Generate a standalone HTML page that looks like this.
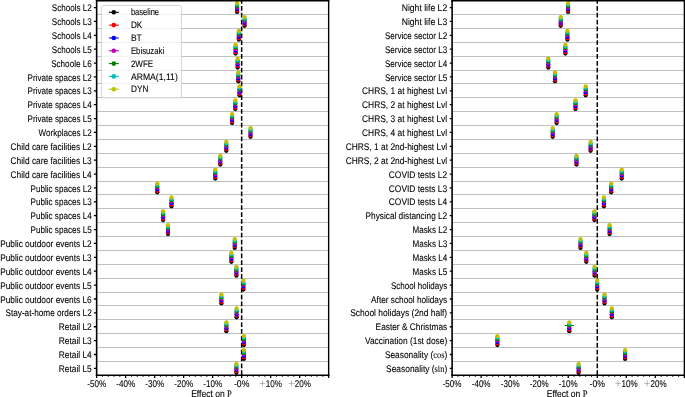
<!DOCTYPE html><html><head><meta charset="utf-8"><style>html,body{margin:0;padding:0;background:#fff;overflow:hidden}svg{display:block;will-change:transform}text{font-family:"Liberation Sans",sans-serif;fill:#000;text-rendering:geometricPrecision;stroke:#000;stroke-width:0.1px}</style></head><body>
<svg width="685" height="397" viewBox="0 0 685 397">
<path d="M96.65 14.5H328.65M96.65 28.5H328.65M96.65 42.5H328.65M96.65 56.5H328.65M96.65 70.5H328.65M96.65 83.5H328.65M96.65 97.5H328.65M96.65 111.5H328.65M96.65 125.5H328.65M96.65 139.5H328.65M96.65 153.5H328.65M96.65 167.5H328.65M96.65 181.5H328.65M96.65 194.5H328.65M96.65 208.5H328.65M96.65 222.5H328.65M96.65 236.5H328.65M96.65 250.5H328.65M96.65 264.5H328.65M96.65 278.5H328.65M96.65 292.5H328.65M96.65 305.5H328.65M96.65 319.5H328.65M96.65 333.5H328.65M96.65 347.5H328.65M96.65 361.5H328.65" stroke="#c0c0c0" stroke-width="1" fill="none"/>
<line x1="241.65" y1="0.62" x2="241.65" y2="375.3" stroke="#000" stroke-width="1.5" stroke-dasharray="4.7 2.175" stroke-dashoffset="1.5"/>
<circle cx="237.1" cy="11.97" r="2.15" fill="#000000"/>
<circle cx="237.1" cy="10.5" r="2.15" fill="#ff0000"/>
<circle cx="237.1" cy="9.03" r="2.15" fill="#0000ff"/>
<circle cx="237.1" cy="7.56" r="2.15" fill="#bf00bf"/>
<circle cx="237.1" cy="6.09" r="2.15" fill="#008000"/>
<circle cx="237.1" cy="4.62" r="2.15" fill="#00bfbf"/>
<circle cx="237.1" cy="3.15" r="2.15" fill="#bfbf00"/>
<circle cx="244.6" cy="25.85" r="2.15" fill="#000000"/>
<circle cx="244.6" cy="24.38" r="2.15" fill="#ff0000"/>
<circle cx="244.6" cy="22.91" r="2.15" fill="#0000ff"/>
<circle cx="244.6" cy="21.44" r="2.15" fill="#bf00bf"/>
<circle cx="244.6" cy="19.97" r="2.15" fill="#008000"/>
<circle cx="244.6" cy="18.5" r="2.15" fill="#00bfbf"/>
<circle cx="244.6" cy="17.03" r="2.15" fill="#bfbf00"/>
<circle cx="238.8" cy="39.72" r="2.15" fill="#000000"/>
<circle cx="238.8" cy="38.25" r="2.15" fill="#ff0000"/>
<circle cx="238.8" cy="36.78" r="2.15" fill="#0000ff"/>
<circle cx="238.8" cy="35.31" r="2.15" fill="#bf00bf"/>
<circle cx="238.8" cy="33.84" r="2.15" fill="#008000"/>
<circle cx="238.8" cy="32.37" r="2.15" fill="#00bfbf"/>
<circle cx="238.8" cy="30.9" r="2.15" fill="#bfbf00"/>
<circle cx="235.6" cy="53.6" r="2.15" fill="#000000"/>
<circle cx="235.6" cy="52.13" r="2.15" fill="#ff0000"/>
<circle cx="235.6" cy="50.66" r="2.15" fill="#0000ff"/>
<circle cx="235.6" cy="49.19" r="2.15" fill="#bf00bf"/>
<circle cx="235.6" cy="47.72" r="2.15" fill="#008000"/>
<circle cx="235.6" cy="46.25" r="2.15" fill="#00bfbf"/>
<circle cx="235.6" cy="44.78" r="2.15" fill="#bfbf00"/>
<circle cx="237.6" cy="67.48" r="2.15" fill="#000000"/>
<circle cx="237.6" cy="66.01" r="2.15" fill="#ff0000"/>
<circle cx="237.6" cy="64.54" r="2.15" fill="#0000ff"/>
<circle cx="237.6" cy="63.07" r="2.15" fill="#bf00bf"/>
<circle cx="237.6" cy="61.6" r="2.15" fill="#008000"/>
<circle cx="237.6" cy="60.13" r="2.15" fill="#00bfbf"/>
<circle cx="237.6" cy="58.66" r="2.15" fill="#bfbf00"/>
<circle cx="238.3" cy="81.35" r="2.15" fill="#000000"/>
<circle cx="238.3" cy="79.88" r="2.15" fill="#ff0000"/>
<circle cx="238.3" cy="78.41" r="2.15" fill="#0000ff"/>
<circle cx="238.3" cy="76.94" r="2.15" fill="#bf00bf"/>
<circle cx="238.3" cy="75.47" r="2.15" fill="#008000"/>
<circle cx="238.3" cy="74" r="2.15" fill="#00bfbf"/>
<circle cx="238.3" cy="72.53" r="2.15" fill="#bfbf00"/>
<circle cx="239.5" cy="95.23" r="2.15" fill="#000000"/>
<circle cx="239.5" cy="93.76" r="2.15" fill="#ff0000"/>
<circle cx="239.5" cy="92.29" r="2.15" fill="#0000ff"/>
<circle cx="239.5" cy="90.82" r="2.15" fill="#bf00bf"/>
<circle cx="239.5" cy="89.35" r="2.15" fill="#008000"/>
<circle cx="239.5" cy="87.88" r="2.15" fill="#00bfbf"/>
<circle cx="239.5" cy="86.41" r="2.15" fill="#bfbf00"/>
<circle cx="235.3" cy="109.11" r="2.15" fill="#000000"/>
<circle cx="235.3" cy="107.64" r="2.15" fill="#ff0000"/>
<circle cx="235.3" cy="106.17" r="2.15" fill="#0000ff"/>
<circle cx="235.3" cy="104.7" r="2.15" fill="#bf00bf"/>
<circle cx="235.3" cy="103.23" r="2.15" fill="#008000"/>
<circle cx="235.3" cy="101.76" r="2.15" fill="#00bfbf"/>
<circle cx="235.3" cy="100.29" r="2.15" fill="#bfbf00"/>
<circle cx="232.1" cy="122.98" r="2.15" fill="#000000"/>
<circle cx="232.1" cy="121.51" r="2.15" fill="#ff0000"/>
<circle cx="232.1" cy="120.04" r="2.15" fill="#0000ff"/>
<circle cx="232.1" cy="118.57" r="2.15" fill="#bf00bf"/>
<circle cx="232.1" cy="117.1" r="2.15" fill="#008000"/>
<circle cx="232.1" cy="115.63" r="2.15" fill="#00bfbf"/>
<circle cx="232.1" cy="114.16" r="2.15" fill="#bfbf00"/>
<circle cx="250.5" cy="136.86" r="2.15" fill="#000000"/>
<circle cx="250.5" cy="135.39" r="2.15" fill="#ff0000"/>
<circle cx="250.5" cy="133.92" r="2.15" fill="#0000ff"/>
<circle cx="250.5" cy="132.45" r="2.15" fill="#bf00bf"/>
<circle cx="250.5" cy="130.98" r="2.15" fill="#008000"/>
<circle cx="250.5" cy="129.51" r="2.15" fill="#00bfbf"/>
<circle cx="250.5" cy="128.04" r="2.15" fill="#bfbf00"/>
<circle cx="226.3" cy="150.74" r="2.15" fill="#000000"/>
<circle cx="226.3" cy="149.27" r="2.15" fill="#ff0000"/>
<circle cx="226.3" cy="147.8" r="2.15" fill="#0000ff"/>
<circle cx="226.3" cy="146.33" r="2.15" fill="#bf00bf"/>
<circle cx="226.3" cy="144.86" r="2.15" fill="#008000"/>
<circle cx="226.3" cy="143.39" r="2.15" fill="#00bfbf"/>
<circle cx="226.3" cy="141.92" r="2.15" fill="#bfbf00"/>
<circle cx="220.3" cy="164.62" r="2.15" fill="#000000"/>
<circle cx="220.3" cy="163.15" r="2.15" fill="#ff0000"/>
<circle cx="220.3" cy="161.68" r="2.15" fill="#0000ff"/>
<circle cx="220.3" cy="160.21" r="2.15" fill="#bf00bf"/>
<circle cx="220.3" cy="158.74" r="2.15" fill="#008000"/>
<circle cx="220.3" cy="157.27" r="2.15" fill="#00bfbf"/>
<circle cx="220.3" cy="155.8" r="2.15" fill="#bfbf00"/>
<circle cx="215.3" cy="178.49" r="2.15" fill="#000000"/>
<circle cx="215.3" cy="177.02" r="2.15" fill="#ff0000"/>
<circle cx="215.3" cy="175.55" r="2.15" fill="#0000ff"/>
<circle cx="215.3" cy="174.08" r="2.15" fill="#bf00bf"/>
<circle cx="215.3" cy="172.61" r="2.15" fill="#008000"/>
<circle cx="215.3" cy="171.14" r="2.15" fill="#00bfbf"/>
<circle cx="215.3" cy="169.67" r="2.15" fill="#bfbf00"/>
<circle cx="157.3" cy="192.37" r="2.15" fill="#000000"/>
<circle cx="157.3" cy="190.9" r="2.15" fill="#ff0000"/>
<circle cx="157.3" cy="189.43" r="2.15" fill="#0000ff"/>
<circle cx="157.3" cy="187.96" r="2.15" fill="#bf00bf"/>
<circle cx="157.3" cy="186.49" r="2.15" fill="#008000"/>
<circle cx="157.3" cy="185.02" r="2.15" fill="#00bfbf"/>
<circle cx="157.3" cy="183.55" r="2.15" fill="#bfbf00"/>
<circle cx="171.5" cy="206.25" r="2.15" fill="#000000"/>
<circle cx="171.5" cy="204.78" r="2.15" fill="#ff0000"/>
<circle cx="171.5" cy="203.31" r="2.15" fill="#0000ff"/>
<circle cx="171.5" cy="201.84" r="2.15" fill="#bf00bf"/>
<circle cx="171.5" cy="200.37" r="2.15" fill="#008000"/>
<circle cx="171.5" cy="198.9" r="2.15" fill="#00bfbf"/>
<circle cx="171.5" cy="197.43" r="2.15" fill="#bfbf00"/>
<circle cx="163.1" cy="220.12" r="2.15" fill="#000000"/>
<circle cx="163.1" cy="218.65" r="2.15" fill="#ff0000"/>
<circle cx="163.1" cy="217.18" r="2.15" fill="#0000ff"/>
<circle cx="163.1" cy="215.71" r="2.15" fill="#bf00bf"/>
<circle cx="163.1" cy="214.24" r="2.15" fill="#008000"/>
<circle cx="163.1" cy="212.77" r="2.15" fill="#00bfbf"/>
<circle cx="163.1" cy="211.3" r="2.15" fill="#bfbf00"/>
<circle cx="168" cy="234" r="2.15" fill="#000000"/>
<circle cx="168" cy="232.53" r="2.15" fill="#ff0000"/>
<circle cx="168" cy="231.06" r="2.15" fill="#0000ff"/>
<circle cx="168" cy="229.59" r="2.15" fill="#bf00bf"/>
<circle cx="168" cy="228.12" r="2.15" fill="#008000"/>
<circle cx="168" cy="226.65" r="2.15" fill="#00bfbf"/>
<circle cx="168" cy="225.18" r="2.15" fill="#bfbf00"/>
<circle cx="234.7" cy="247.88" r="2.15" fill="#000000"/>
<circle cx="234.7" cy="246.41" r="2.15" fill="#ff0000"/>
<circle cx="234.7" cy="244.94" r="2.15" fill="#0000ff"/>
<circle cx="234.7" cy="243.47" r="2.15" fill="#bf00bf"/>
<circle cx="234.7" cy="242" r="2.15" fill="#008000"/>
<circle cx="234.7" cy="240.53" r="2.15" fill="#00bfbf"/>
<circle cx="234.7" cy="239.06" r="2.15" fill="#bfbf00"/>
<circle cx="231.4" cy="261.76" r="2.15" fill="#000000"/>
<circle cx="231.4" cy="260.29" r="2.15" fill="#ff0000"/>
<circle cx="231.4" cy="258.82" r="2.15" fill="#0000ff"/>
<circle cx="231.4" cy="257.35" r="2.15" fill="#bf00bf"/>
<circle cx="231.4" cy="255.88" r="2.15" fill="#008000"/>
<circle cx="231.4" cy="254.41" r="2.15" fill="#00bfbf"/>
<circle cx="231.4" cy="252.94" r="2.15" fill="#bfbf00"/>
<circle cx="236.4" cy="275.63" r="2.15" fill="#000000"/>
<circle cx="236.4" cy="274.16" r="2.15" fill="#ff0000"/>
<circle cx="236.4" cy="272.69" r="2.15" fill="#0000ff"/>
<circle cx="236.4" cy="271.22" r="2.15" fill="#bf00bf"/>
<circle cx="236.4" cy="269.75" r="2.15" fill="#008000"/>
<circle cx="236.4" cy="268.28" r="2.15" fill="#00bfbf"/>
<circle cx="236.4" cy="266.81" r="2.15" fill="#bfbf00"/>
<circle cx="243.4" cy="289.51" r="2.15" fill="#000000"/>
<circle cx="243.4" cy="288.04" r="2.15" fill="#ff0000"/>
<circle cx="243.4" cy="286.57" r="2.15" fill="#0000ff"/>
<circle cx="243.4" cy="285.1" r="2.15" fill="#bf00bf"/>
<circle cx="243.4" cy="283.63" r="2.15" fill="#008000"/>
<circle cx="243.4" cy="282.16" r="2.15" fill="#00bfbf"/>
<circle cx="243.4" cy="280.69" r="2.15" fill="#bfbf00"/>
<circle cx="221.4" cy="303.39" r="2.15" fill="#000000"/>
<circle cx="221.4" cy="301.92" r="2.15" fill="#ff0000"/>
<circle cx="221.4" cy="300.45" r="2.15" fill="#0000ff"/>
<circle cx="221.4" cy="298.98" r="2.15" fill="#bf00bf"/>
<circle cx="221.4" cy="297.51" r="2.15" fill="#008000"/>
<circle cx="221.4" cy="296.04" r="2.15" fill="#00bfbf"/>
<circle cx="221.4" cy="294.57" r="2.15" fill="#bfbf00"/>
<circle cx="236.6" cy="317.26" r="2.15" fill="#000000"/>
<circle cx="236.6" cy="315.79" r="2.15" fill="#ff0000"/>
<circle cx="236.6" cy="314.32" r="2.15" fill="#0000ff"/>
<circle cx="236.6" cy="312.85" r="2.15" fill="#bf00bf"/>
<circle cx="236.6" cy="311.38" r="2.15" fill="#008000"/>
<circle cx="236.6" cy="309.91" r="2.15" fill="#00bfbf"/>
<circle cx="236.6" cy="308.44" r="2.15" fill="#bfbf00"/>
<circle cx="226.4" cy="331.14" r="2.15" fill="#000000"/>
<circle cx="226.4" cy="329.67" r="2.15" fill="#ff0000"/>
<circle cx="226.4" cy="328.2" r="2.15" fill="#0000ff"/>
<circle cx="226.4" cy="326.73" r="2.15" fill="#bf00bf"/>
<circle cx="226.4" cy="325.26" r="2.15" fill="#008000"/>
<circle cx="226.4" cy="323.79" r="2.15" fill="#00bfbf"/>
<circle cx="226.4" cy="322.32" r="2.15" fill="#bfbf00"/>
<circle cx="243.9" cy="345.02" r="2.15" fill="#000000"/>
<circle cx="243.9" cy="343.55" r="2.15" fill="#ff0000"/>
<circle cx="243.9" cy="342.08" r="2.15" fill="#0000ff"/>
<circle cx="243.9" cy="340.61" r="2.15" fill="#bf00bf"/>
<circle cx="243.9" cy="339.14" r="2.15" fill="#008000"/>
<circle cx="243.9" cy="337.67" r="2.15" fill="#00bfbf"/>
<circle cx="243.9" cy="336.2" r="2.15" fill="#bfbf00"/>
<circle cx="243.9" cy="358.89" r="2.15" fill="#000000"/>
<circle cx="243.9" cy="357.42" r="2.15" fill="#ff0000"/>
<circle cx="243.9" cy="355.95" r="2.15" fill="#0000ff"/>
<circle cx="243.9" cy="354.48" r="2.15" fill="#bf00bf"/>
<circle cx="243.9" cy="353.01" r="2.15" fill="#008000"/>
<circle cx="243.9" cy="351.54" r="2.15" fill="#00bfbf"/>
<circle cx="243.9" cy="350.07" r="2.15" fill="#bfbf00"/>
<circle cx="236.4" cy="372.77" r="2.15" fill="#000000"/>
<circle cx="236.4" cy="371.3" r="2.15" fill="#ff0000"/>
<circle cx="236.4" cy="369.83" r="2.15" fill="#0000ff"/>
<circle cx="236.4" cy="368.36" r="2.15" fill="#bf00bf"/>
<circle cx="236.4" cy="366.89" r="2.15" fill="#008000"/>
<circle cx="236.4" cy="365.42" r="2.15" fill="#00bfbf"/>
<circle cx="236.4" cy="363.95" r="2.15" fill="#bfbf00"/>
<path d="M95.85 0.75H329.35" stroke="#000" stroke-width="1.5"/>
<path d="M95.85 375.3H329.35" stroke="#000" stroke-width="1.5"/>
<path d="M96.65 0V376.05" stroke="#000" stroke-width="1.6"/>
<path d="M328.65 0V376.05" stroke="#000" stroke-width="1.4"/>
<text x="51.75" y="11.16" font-size="9.6" textLength="40" lengthAdjust="spacingAndGlyphs">Schools L2</text>
<text x="51.75" y="25.04" font-size="9.6" textLength="40" lengthAdjust="spacingAndGlyphs">Schools L3</text>
<text x="51.75" y="38.91" font-size="9.6" textLength="40" lengthAdjust="spacingAndGlyphs">Schools L4</text>
<text x="51.75" y="52.79" font-size="9.6" textLength="40" lengthAdjust="spacingAndGlyphs">Schools L5</text>
<text x="51.15" y="66.67" font-size="9.6" textLength="40.6" lengthAdjust="spacingAndGlyphs">Schoole L6</text>
<text x="27.55" y="80.54" font-size="9.6" textLength="64.2" lengthAdjust="spacingAndGlyphs">Private spaces L2</text>
<text x="27.55" y="94.42" font-size="9.6" textLength="64.2" lengthAdjust="spacingAndGlyphs">Private spaces L3</text>
<text x="27.55" y="108.3" font-size="9.6" textLength="64.2" lengthAdjust="spacingAndGlyphs">Private spaces L4</text>
<text x="27.55" y="122.17" font-size="9.6" textLength="64.2" lengthAdjust="spacingAndGlyphs">Private spaces L5</text>
<text x="38.55" y="136.05" font-size="9.6" textLength="53.2" lengthAdjust="spacingAndGlyphs">Workplaces L2</text>
<text x="10.55" y="149.93" font-size="9.6" textLength="81.2" lengthAdjust="spacingAndGlyphs">Child care facilities L2</text>
<text x="10.55" y="163.81" font-size="9.6" textLength="81.2" lengthAdjust="spacingAndGlyphs">Child care facilities L3</text>
<text x="10.55" y="177.68" font-size="9.6" textLength="81.2" lengthAdjust="spacingAndGlyphs">Child care facilities L4</text>
<text x="30.55" y="191.56" font-size="9.6" textLength="61.2" lengthAdjust="spacingAndGlyphs">Public spaces L2</text>
<text x="30.55" y="205.44" font-size="9.6" textLength="61.2" lengthAdjust="spacingAndGlyphs">Public spaces L3</text>
<text x="30.55" y="219.31" font-size="9.6" textLength="61.2" lengthAdjust="spacingAndGlyphs">Public spaces L4</text>
<text x="30.55" y="233.19" font-size="9.6" textLength="61.2" lengthAdjust="spacingAndGlyphs">Public spaces L5</text>
<text x="0.15" y="247.07" font-size="9.6" textLength="91.6" lengthAdjust="spacingAndGlyphs">Public outdoor events L2</text>
<text x="0.15" y="260.95" font-size="9.6" textLength="91.6" lengthAdjust="spacingAndGlyphs">Public outdoor events L3</text>
<text x="0.15" y="274.82" font-size="9.6" textLength="91.6" lengthAdjust="spacingAndGlyphs">Public outdoor events L4</text>
<text x="0.15" y="288.7" font-size="9.6" textLength="91.6" lengthAdjust="spacingAndGlyphs">Public outdoor events L5</text>
<text x="0.15" y="302.58" font-size="9.6" textLength="91.6" lengthAdjust="spacingAndGlyphs">Public outdoor events L6</text>
<text x="5.45" y="316.45" font-size="9.6" textLength="86.3" lengthAdjust="spacingAndGlyphs">Stay-at-home orders L2</text>
<text x="58.75" y="330.33" font-size="9.6" textLength="33" lengthAdjust="spacingAndGlyphs">Retail L2</text>
<text x="58.75" y="344.21" font-size="9.6" textLength="33" lengthAdjust="spacingAndGlyphs">Retail L3</text>
<text x="58.75" y="358.08" font-size="9.6" textLength="33" lengthAdjust="spacingAndGlyphs">Retail L4</text>
<text x="58.75" y="371.96" font-size="9.6" textLength="33" lengthAdjust="spacingAndGlyphs">Retail L5</text>
<path d="M93.85 7.56H96.65M93.85 21.44H96.65M93.85 35.31H96.65M93.85 49.19H96.65M93.85 63.07H96.65M93.85 76.94H96.65M93.85 90.82H96.65M93.85 104.7H96.65M93.85 118.57H96.65M93.85 132.45H96.65M93.85 146.33H96.65M93.85 160.21H96.65M93.85 174.08H96.65M93.85 187.96H96.65M93.85 201.84H96.65M93.85 215.71H96.65M93.85 229.59H96.65M93.85 243.47H96.65M93.85 257.35H96.65M93.85 271.22H96.65M93.85 285.1H96.65M93.85 298.98H96.65M93.85 312.85H96.65M93.85 326.73H96.65M93.85 340.61H96.65M93.85 354.48H96.65M93.85 368.36H96.65M96.65 375.3V377.9M125.65 375.3V377.9M154.65 375.3V377.9M183.65 375.3V377.9M212.65 375.3V377.9M241.65 375.3V377.9M270.65 375.3V377.9M299.65 375.3V377.9M328.65 375.3V377.9" stroke="#000" stroke-width="1.3" fill="none"/>
<path d="M102.45 375.3V376.9M108.25 375.3V376.9M114.05 375.3V376.9M119.85 375.3V376.9M131.45 375.3V376.9M137.25 375.3V376.9M143.05 375.3V376.9M148.85 375.3V376.9M160.45 375.3V376.9M166.25 375.3V376.9M172.05 375.3V376.9M177.85 375.3V376.9M189.45 375.3V376.9M195.25 375.3V376.9M201.05 375.3V376.9M206.85 375.3V376.9M218.45 375.3V376.9M224.25 375.3V376.9M230.05 375.3V376.9M235.85 375.3V376.9M247.45 375.3V376.9M253.25 375.3V376.9M259.05 375.3V376.9M264.85 375.3V376.9M276.45 375.3V376.9M282.25 375.3V376.9M288.05 375.3V376.9M293.85 375.3V376.9M305.45 375.3V376.9M311.25 375.3V376.9M317.05 375.3V376.9M322.85 375.3V376.9" stroke="#000" stroke-width="0.9" fill="none"/>
<text x="87.25" y="386.6" font-size="9.8" textLength="18.8" lengthAdjust="spacingAndGlyphs">-50%</text>
<text x="116.25" y="386.6" font-size="9.8" textLength="18.8" lengthAdjust="spacingAndGlyphs">-40%</text>
<text x="145.25" y="386.6" font-size="9.8" textLength="18.8" lengthAdjust="spacingAndGlyphs">-30%</text>
<text x="174.25" y="386.6" font-size="9.8" textLength="18.8" lengthAdjust="spacingAndGlyphs">-20%</text>
<text x="203.25" y="386.6" font-size="9.8" textLength="18.8" lengthAdjust="spacingAndGlyphs">-10%</text>
<text x="233.95" y="386.6" font-size="9.8" textLength="15.4" lengthAdjust="spacingAndGlyphs">-0%</text>
<path d="M259.55 383.4H265.35M262.45 380.5V386.3" stroke="#8a8a8a" stroke-width="0.6" fill="none"/>
<text x="265.85" y="386.6" font-size="9.8" textLength="16.1" lengthAdjust="spacingAndGlyphs">10%</text>
<path d="M288.55 383.4H294.35M291.45 380.5V386.3" stroke="#8a8a8a" stroke-width="0.6" fill="none"/>
<text x="294.85" y="386.6" font-size="9.8" textLength="16.1" lengthAdjust="spacingAndGlyphs">20%</text>
<text x="191.15" y="397.1" font-size="9.8" textLength="40.7" lengthAdjust="spacingAndGlyphs">Effect on <tspan font-family="Liberation Serif">P</tspan></text>
<rect x="101.6" y="5.5" width="79.8" height="92.3" rx="2" fill="#fff" fill-opacity="0.8" stroke="#cccccc" stroke-width="0.8"/>
<line x1="108.9" y1="12.3" x2="118.8" y2="12.3" stroke="#000000" stroke-width="1.1"/>
<circle cx="113.8" cy="12.3" r="2.3" fill="#000000"/>
<text x="130.9" y="15.45" font-size="9.4" textLength="28.2" lengthAdjust="spacingAndGlyphs">baseline</text>
<line x1="108.9" y1="25.12" x2="118.8" y2="25.12" stroke="#ff0000" stroke-width="1.1"/>
<circle cx="113.8" cy="25.12" r="2.3" fill="#ff0000"/>
<text x="130.9" y="28.27" font-size="9.4" textLength="11.4" lengthAdjust="spacingAndGlyphs">DK</text>
<line x1="108.9" y1="37.94" x2="118.8" y2="37.94" stroke="#0000ff" stroke-width="1.1"/>
<circle cx="113.8" cy="37.94" r="2.3" fill="#0000ff"/>
<text x="130.9" y="41.09" font-size="9.4" textLength="10.9" lengthAdjust="spacingAndGlyphs">BT</text>
<line x1="108.9" y1="50.76" x2="118.8" y2="50.76" stroke="#bf00bf" stroke-width="1.1"/>
<circle cx="113.8" cy="50.76" r="2.3" fill="#bf00bf"/>
<text x="130.9" y="53.91" font-size="9.4" textLength="33.3" lengthAdjust="spacingAndGlyphs">Ebisuzaki</text>
<line x1="108.9" y1="63.58" x2="118.8" y2="63.58" stroke="#008000" stroke-width="1.1"/>
<circle cx="113.8" cy="63.58" r="2.3" fill="#008000"/>
<text x="130.9" y="66.73" font-size="9.4" textLength="22.3" lengthAdjust="spacingAndGlyphs">2WFE</text>
<line x1="108.9" y1="76.4" x2="118.8" y2="76.4" stroke="#00bfbf" stroke-width="1.1"/>
<circle cx="113.8" cy="76.4" r="2.3" fill="#00bfbf"/>
<text x="130.9" y="79.55" font-size="9.4" textLength="46.9" lengthAdjust="spacingAndGlyphs">ARMA(1,11)</text>
<line x1="108.9" y1="89.22" x2="118.8" y2="89.22" stroke="#bfbf00" stroke-width="1.1"/>
<circle cx="113.8" cy="89.22" r="2.3" fill="#bfbf00"/>
<text x="130.9" y="92.37" font-size="9.4" textLength="17.5" lengthAdjust="spacingAndGlyphs">DYN</text>
<path d="M452.1 14.5H684.38M452.1 28.5H684.38M452.1 42.5H684.38M452.1 56.5H684.38M452.1 70.5H684.38M452.1 83.5H684.38M452.1 97.5H684.38M452.1 111.5H684.38M452.1 125.5H684.38M452.1 139.5H684.38M452.1 153.5H684.38M452.1 167.5H684.38M452.1 181.5H684.38M452.1 194.5H684.38M452.1 208.5H684.38M452.1 222.5H684.38M452.1 236.5H684.38M452.1 250.5H684.38M452.1 264.5H684.38M452.1 278.5H684.38M452.1 292.5H684.38M452.1 305.5H684.38M452.1 319.5H684.38M452.1 333.5H684.38M452.1 347.5H684.38M452.1 361.5H684.38" stroke="#c0c0c0" stroke-width="1" fill="none"/>
<line x1="597.28" y1="0.62" x2="597.28" y2="375.3" stroke="#000" stroke-width="1.5" stroke-dasharray="4.7 2.175" stroke-dashoffset="1.5"/>
<circle cx="568.1" cy="11.97" r="2.15" fill="#000000"/>
<circle cx="568.1" cy="10.5" r="2.15" fill="#ff0000"/>
<circle cx="568.1" cy="9.03" r="2.15" fill="#0000ff"/>
<circle cx="568.1" cy="7.56" r="2.15" fill="#bf00bf"/>
<circle cx="568.1" cy="6.09" r="2.15" fill="#008000"/>
<circle cx="568.1" cy="4.62" r="2.15" fill="#00bfbf"/>
<circle cx="568.1" cy="3.15" r="2.15" fill="#bfbf00"/>
<circle cx="560.7" cy="25.85" r="2.15" fill="#000000"/>
<circle cx="560.7" cy="24.38" r="2.15" fill="#ff0000"/>
<circle cx="560.7" cy="22.91" r="2.15" fill="#0000ff"/>
<circle cx="560.7" cy="21.44" r="2.15" fill="#bf00bf"/>
<circle cx="560.7" cy="19.97" r="2.15" fill="#008000"/>
<circle cx="560.7" cy="18.5" r="2.15" fill="#00bfbf"/>
<circle cx="560.7" cy="17.03" r="2.15" fill="#bfbf00"/>
<circle cx="567.4" cy="39.72" r="2.15" fill="#000000"/>
<circle cx="567.4" cy="38.25" r="2.15" fill="#ff0000"/>
<circle cx="567.4" cy="36.78" r="2.15" fill="#0000ff"/>
<circle cx="567.4" cy="35.31" r="2.15" fill="#bf00bf"/>
<circle cx="567.4" cy="33.84" r="2.15" fill="#008000"/>
<circle cx="567.4" cy="32.37" r="2.15" fill="#00bfbf"/>
<circle cx="567.4" cy="30.9" r="2.15" fill="#bfbf00"/>
<circle cx="565.4" cy="53.6" r="2.15" fill="#000000"/>
<circle cx="565.4" cy="52.13" r="2.15" fill="#ff0000"/>
<circle cx="565.4" cy="50.66" r="2.15" fill="#0000ff"/>
<circle cx="565.4" cy="49.19" r="2.15" fill="#bf00bf"/>
<circle cx="565.4" cy="47.72" r="2.15" fill="#008000"/>
<circle cx="565.4" cy="46.25" r="2.15" fill="#00bfbf"/>
<circle cx="565.4" cy="44.78" r="2.15" fill="#bfbf00"/>
<circle cx="548.3" cy="67.48" r="2.15" fill="#000000"/>
<circle cx="548.3" cy="66.01" r="2.15" fill="#ff0000"/>
<circle cx="548.3" cy="64.54" r="2.15" fill="#0000ff"/>
<circle cx="548.3" cy="63.07" r="2.15" fill="#bf00bf"/>
<circle cx="548.3" cy="61.6" r="2.15" fill="#008000"/>
<circle cx="548.3" cy="60.13" r="2.15" fill="#00bfbf"/>
<circle cx="548.3" cy="58.66" r="2.15" fill="#bfbf00"/>
<circle cx="555" cy="81.35" r="2.15" fill="#000000"/>
<circle cx="555" cy="79.88" r="2.15" fill="#ff0000"/>
<circle cx="555" cy="78.41" r="2.15" fill="#0000ff"/>
<circle cx="555" cy="76.94" r="2.15" fill="#bf00bf"/>
<circle cx="555" cy="75.47" r="2.15" fill="#008000"/>
<circle cx="555" cy="74" r="2.15" fill="#00bfbf"/>
<circle cx="555" cy="72.53" r="2.15" fill="#bfbf00"/>
<circle cx="585.7" cy="95.23" r="2.15" fill="#000000"/>
<circle cx="585.7" cy="93.76" r="2.15" fill="#ff0000"/>
<circle cx="585.7" cy="92.29" r="2.15" fill="#0000ff"/>
<circle cx="585.7" cy="90.82" r="2.15" fill="#bf00bf"/>
<circle cx="585.7" cy="89.35" r="2.15" fill="#008000"/>
<circle cx="585.7" cy="87.88" r="2.15" fill="#00bfbf"/>
<circle cx="585.7" cy="86.41" r="2.15" fill="#bfbf00"/>
<circle cx="575.5" cy="109.11" r="2.15" fill="#000000"/>
<circle cx="575.5" cy="107.64" r="2.15" fill="#ff0000"/>
<circle cx="575.5" cy="106.17" r="2.15" fill="#0000ff"/>
<circle cx="575.5" cy="104.7" r="2.15" fill="#bf00bf"/>
<circle cx="575.5" cy="103.23" r="2.15" fill="#008000"/>
<circle cx="575.5" cy="101.76" r="2.15" fill="#00bfbf"/>
<circle cx="575.5" cy="100.29" r="2.15" fill="#bfbf00"/>
<circle cx="556.6" cy="122.98" r="2.15" fill="#000000"/>
<circle cx="556.6" cy="121.51" r="2.15" fill="#ff0000"/>
<circle cx="556.6" cy="120.04" r="2.15" fill="#0000ff"/>
<circle cx="556.6" cy="118.57" r="2.15" fill="#bf00bf"/>
<circle cx="556.6" cy="117.1" r="2.15" fill="#008000"/>
<circle cx="556.6" cy="115.63" r="2.15" fill="#00bfbf"/>
<circle cx="556.6" cy="114.16" r="2.15" fill="#bfbf00"/>
<circle cx="552.7" cy="136.86" r="2.15" fill="#000000"/>
<circle cx="552.7" cy="135.39" r="2.15" fill="#ff0000"/>
<circle cx="552.7" cy="133.92" r="2.15" fill="#0000ff"/>
<circle cx="552.7" cy="132.45" r="2.15" fill="#bf00bf"/>
<circle cx="552.7" cy="130.98" r="2.15" fill="#008000"/>
<circle cx="552.7" cy="129.51" r="2.15" fill="#00bfbf"/>
<circle cx="552.7" cy="128.04" r="2.15" fill="#bfbf00"/>
<circle cx="590.6" cy="150.74" r="2.15" fill="#000000"/>
<circle cx="590.6" cy="149.27" r="2.15" fill="#ff0000"/>
<circle cx="590.6" cy="147.8" r="2.15" fill="#0000ff"/>
<circle cx="590.6" cy="146.33" r="2.15" fill="#bf00bf"/>
<circle cx="590.6" cy="144.86" r="2.15" fill="#008000"/>
<circle cx="590.6" cy="143.39" r="2.15" fill="#00bfbf"/>
<circle cx="590.6" cy="141.92" r="2.15" fill="#bfbf00"/>
<circle cx="576.5" cy="164.62" r="2.15" fill="#000000"/>
<circle cx="576.5" cy="163.15" r="2.15" fill="#ff0000"/>
<circle cx="576.5" cy="161.68" r="2.15" fill="#0000ff"/>
<circle cx="576.5" cy="160.21" r="2.15" fill="#bf00bf"/>
<circle cx="576.5" cy="158.74" r="2.15" fill="#008000"/>
<circle cx="576.5" cy="157.27" r="2.15" fill="#00bfbf"/>
<circle cx="576.5" cy="155.8" r="2.15" fill="#bfbf00"/>
<circle cx="621.7" cy="178.49" r="2.15" fill="#000000"/>
<circle cx="621.7" cy="177.02" r="2.15" fill="#ff0000"/>
<circle cx="621.7" cy="175.55" r="2.15" fill="#0000ff"/>
<circle cx="621.7" cy="174.08" r="2.15" fill="#bf00bf"/>
<circle cx="621.7" cy="172.61" r="2.15" fill="#008000"/>
<circle cx="621.7" cy="171.14" r="2.15" fill="#00bfbf"/>
<circle cx="621.7" cy="169.67" r="2.15" fill="#bfbf00"/>
<circle cx="611.2" cy="192.37" r="2.15" fill="#000000"/>
<circle cx="611.2" cy="190.9" r="2.15" fill="#ff0000"/>
<circle cx="611.2" cy="189.43" r="2.15" fill="#0000ff"/>
<circle cx="611.2" cy="187.96" r="2.15" fill="#bf00bf"/>
<circle cx="611.2" cy="186.49" r="2.15" fill="#008000"/>
<circle cx="611.2" cy="185.02" r="2.15" fill="#00bfbf"/>
<circle cx="611.2" cy="183.55" r="2.15" fill="#bfbf00"/>
<circle cx="603.9" cy="206.25" r="2.15" fill="#000000"/>
<circle cx="603.9" cy="204.78" r="2.15" fill="#ff0000"/>
<circle cx="603.9" cy="203.31" r="2.15" fill="#0000ff"/>
<circle cx="603.9" cy="201.84" r="2.15" fill="#bf00bf"/>
<circle cx="603.9" cy="200.37" r="2.15" fill="#008000"/>
<circle cx="603.9" cy="198.9" r="2.15" fill="#00bfbf"/>
<circle cx="603.9" cy="197.43" r="2.15" fill="#bfbf00"/>
<circle cx="594.4" cy="220.12" r="2.15" fill="#000000"/>
<circle cx="594.4" cy="218.65" r="2.15" fill="#ff0000"/>
<circle cx="594.4" cy="217.18" r="2.15" fill="#0000ff"/>
<circle cx="594.4" cy="215.71" r="2.15" fill="#bf00bf"/>
<circle cx="594.4" cy="214.24" r="2.15" fill="#008000"/>
<circle cx="594.4" cy="212.77" r="2.15" fill="#00bfbf"/>
<circle cx="594.4" cy="211.3" r="2.15" fill="#bfbf00"/>
<circle cx="609.6" cy="234" r="2.15" fill="#000000"/>
<circle cx="609.6" cy="232.53" r="2.15" fill="#ff0000"/>
<circle cx="609.6" cy="231.06" r="2.15" fill="#0000ff"/>
<circle cx="609.6" cy="229.59" r="2.15" fill="#bf00bf"/>
<circle cx="609.6" cy="228.12" r="2.15" fill="#008000"/>
<circle cx="609.6" cy="226.65" r="2.15" fill="#00bfbf"/>
<circle cx="609.6" cy="225.18" r="2.15" fill="#bfbf00"/>
<circle cx="580.5" cy="247.88" r="2.15" fill="#000000"/>
<circle cx="580.5" cy="246.41" r="2.15" fill="#ff0000"/>
<circle cx="580.5" cy="244.94" r="2.15" fill="#0000ff"/>
<circle cx="580.5" cy="243.47" r="2.15" fill="#bf00bf"/>
<circle cx="580.5" cy="242" r="2.15" fill="#008000"/>
<circle cx="580.5" cy="240.53" r="2.15" fill="#00bfbf"/>
<circle cx="580.5" cy="239.06" r="2.15" fill="#bfbf00"/>
<circle cx="586.3" cy="261.76" r="2.15" fill="#000000"/>
<circle cx="586.3" cy="260.29" r="2.15" fill="#ff0000"/>
<circle cx="586.3" cy="258.82" r="2.15" fill="#0000ff"/>
<circle cx="586.3" cy="257.35" r="2.15" fill="#bf00bf"/>
<circle cx="586.3" cy="255.88" r="2.15" fill="#008000"/>
<circle cx="586.3" cy="254.41" r="2.15" fill="#00bfbf"/>
<circle cx="586.3" cy="252.94" r="2.15" fill="#bfbf00"/>
<circle cx="594.6" cy="275.63" r="2.15" fill="#000000"/>
<circle cx="594.6" cy="274.16" r="2.15" fill="#ff0000"/>
<circle cx="594.6" cy="272.69" r="2.15" fill="#0000ff"/>
<circle cx="594.6" cy="271.22" r="2.15" fill="#bf00bf"/>
<circle cx="594.6" cy="269.75" r="2.15" fill="#008000"/>
<circle cx="594.6" cy="268.28" r="2.15" fill="#00bfbf"/>
<circle cx="594.6" cy="266.81" r="2.15" fill="#bfbf00"/>
<circle cx="597.2" cy="289.51" r="2.15" fill="#000000"/>
<circle cx="597.2" cy="288.04" r="2.15" fill="#ff0000"/>
<circle cx="597.2" cy="286.57" r="2.15" fill="#0000ff"/>
<circle cx="597.2" cy="285.1" r="2.15" fill="#bf00bf"/>
<circle cx="597.2" cy="283.63" r="2.15" fill="#008000"/>
<circle cx="597.2" cy="282.16" r="2.15" fill="#00bfbf"/>
<circle cx="597.2" cy="280.69" r="2.15" fill="#bfbf00"/>
<circle cx="604.5" cy="303.39" r="2.15" fill="#000000"/>
<circle cx="604.5" cy="301.92" r="2.15" fill="#ff0000"/>
<circle cx="604.5" cy="300.45" r="2.15" fill="#0000ff"/>
<circle cx="604.5" cy="298.98" r="2.15" fill="#bf00bf"/>
<circle cx="604.5" cy="297.51" r="2.15" fill="#008000"/>
<circle cx="604.5" cy="296.04" r="2.15" fill="#00bfbf"/>
<circle cx="604.5" cy="294.57" r="2.15" fill="#bfbf00"/>
<circle cx="611.8" cy="317.26" r="2.15" fill="#000000"/>
<circle cx="611.8" cy="315.79" r="2.15" fill="#ff0000"/>
<circle cx="611.8" cy="314.32" r="2.15" fill="#0000ff"/>
<circle cx="611.8" cy="312.85" r="2.15" fill="#bf00bf"/>
<circle cx="611.8" cy="311.38" r="2.15" fill="#008000"/>
<circle cx="611.8" cy="309.91" r="2.15" fill="#00bfbf"/>
<circle cx="611.8" cy="308.44" r="2.15" fill="#bfbf00"/>
<circle cx="569.3" cy="331.14" r="2.15" fill="#000000"/>
<circle cx="569.3" cy="329.67" r="2.15" fill="#ff0000"/>
<circle cx="569.3" cy="328.2" r="2.15" fill="#0000ff"/>
<circle cx="569.3" cy="326.73" r="2.15" fill="#bf00bf"/>
<path d="M564.8 325.5H574" stroke="#008000" stroke-width="1.0"/>
<circle cx="569.3" cy="325.26" r="2.15" fill="#008000"/>
<circle cx="569.3" cy="323.79" r="2.15" fill="#00bfbf"/>
<circle cx="569.3" cy="322.32" r="2.15" fill="#bfbf00"/>
<circle cx="497.4" cy="345.02" r="2.15" fill="#000000"/>
<circle cx="497.4" cy="343.55" r="2.15" fill="#ff0000"/>
<circle cx="497.4" cy="342.08" r="2.15" fill="#0000ff"/>
<circle cx="497.4" cy="340.61" r="2.15" fill="#bf00bf"/>
<circle cx="497.4" cy="339.14" r="2.15" fill="#008000"/>
<circle cx="497.4" cy="337.67" r="2.15" fill="#00bfbf"/>
<circle cx="497.4" cy="336.2" r="2.15" fill="#bfbf00"/>
<circle cx="625.1" cy="358.89" r="2.15" fill="#000000"/>
<circle cx="625.1" cy="357.42" r="2.15" fill="#ff0000"/>
<circle cx="625.1" cy="355.95" r="2.15" fill="#0000ff"/>
<circle cx="625.1" cy="354.48" r="2.15" fill="#bf00bf"/>
<circle cx="625.1" cy="353.01" r="2.15" fill="#008000"/>
<circle cx="625.1" cy="351.54" r="2.15" fill="#00bfbf"/>
<circle cx="625.1" cy="350.07" r="2.15" fill="#bfbf00"/>
<circle cx="578.6" cy="372.77" r="2.15" fill="#000000"/>
<circle cx="578.6" cy="371.3" r="2.15" fill="#ff0000"/>
<circle cx="578.6" cy="369.83" r="2.15" fill="#0000ff"/>
<circle cx="578.6" cy="368.36" r="2.15" fill="#bf00bf"/>
<circle cx="578.6" cy="366.89" r="2.15" fill="#008000"/>
<circle cx="578.6" cy="365.42" r="2.15" fill="#00bfbf"/>
<circle cx="578.6" cy="363.95" r="2.15" fill="#bfbf00"/>
<path d="M451.3 0.75H685.08" stroke="#000" stroke-width="1.5"/>
<path d="M451.3 375.3H685.08" stroke="#000" stroke-width="1.5"/>
<path d="M452.1 0V376.05" stroke="#000" stroke-width="1.6"/>
<path d="M684.38 0V376.05" stroke="#000" stroke-width="1.4"/>
<text x="401.7" y="11.16" font-size="9.6" textLength="45.5" lengthAdjust="spacingAndGlyphs">Night life L2</text>
<text x="401.7" y="25.04" font-size="9.6" textLength="45.5" lengthAdjust="spacingAndGlyphs">Night life L3</text>
<text x="384.9" y="38.91" font-size="9.6" textLength="62.3" lengthAdjust="spacingAndGlyphs">Service sector L2</text>
<text x="384.9" y="52.79" font-size="9.6" textLength="62.3" lengthAdjust="spacingAndGlyphs">Service sector L3</text>
<text x="384.9" y="66.67" font-size="9.6" textLength="62.3" lengthAdjust="spacingAndGlyphs">Service sector L4</text>
<text x="384.9" y="80.54" font-size="9.6" textLength="62.3" lengthAdjust="spacingAndGlyphs">Service sector L5</text>
<text x="362" y="94.42" font-size="9.6" textLength="85.2" lengthAdjust="spacingAndGlyphs">CHRS, 1 at highest Lvl</text>
<text x="362" y="108.3" font-size="9.6" textLength="85.2" lengthAdjust="spacingAndGlyphs">CHRS, 2 at highest Lvl</text>
<text x="362" y="122.17" font-size="9.6" textLength="85.2" lengthAdjust="spacingAndGlyphs">CHRS, 3 at highest Lvl</text>
<text x="362" y="136.05" font-size="9.6" textLength="85.2" lengthAdjust="spacingAndGlyphs">CHRS, 4 at highest Lvl</text>
<text x="345.7" y="149.93" font-size="9.6" textLength="101.5" lengthAdjust="spacingAndGlyphs">CHRS, 1 at 2nd-highest Lvl</text>
<text x="345.7" y="163.81" font-size="9.6" textLength="101.5" lengthAdjust="spacingAndGlyphs">CHRS, 2 at 2nd-highest Lvl</text>
<text x="388.8" y="177.68" font-size="9.6" textLength="58.4" lengthAdjust="spacingAndGlyphs">COVID tests L2</text>
<text x="388.8" y="191.56" font-size="9.6" textLength="58.4" lengthAdjust="spacingAndGlyphs">COVID tests L3</text>
<text x="388.8" y="205.44" font-size="9.6" textLength="58.4" lengthAdjust="spacingAndGlyphs">COVID tests L4</text>
<text x="365.6" y="219.31" font-size="9.6" textLength="81.6" lengthAdjust="spacingAndGlyphs">Physical distancing L2</text>
<text x="412.6" y="233.19" font-size="9.6" textLength="34.6" lengthAdjust="spacingAndGlyphs">Masks L2</text>
<text x="412.6" y="247.07" font-size="9.6" textLength="34.6" lengthAdjust="spacingAndGlyphs">Masks L3</text>
<text x="412.6" y="260.95" font-size="9.6" textLength="34.6" lengthAdjust="spacingAndGlyphs">Masks L4</text>
<text x="412.6" y="274.82" font-size="9.6" textLength="34.6" lengthAdjust="spacingAndGlyphs">Masks L5</text>
<text x="391" y="288.7" font-size="9.6" textLength="56.2" lengthAdjust="spacingAndGlyphs">School holidays</text>
<text x="371.1" y="302.58" font-size="9.6" textLength="76.1" lengthAdjust="spacingAndGlyphs">After school holidays</text>
<text x="350.2" y="316.45" font-size="9.6" textLength="97" lengthAdjust="spacingAndGlyphs">School holidays (2nd half)</text>
<text x="375.6" y="330.33" font-size="9.6" textLength="71.6" lengthAdjust="spacingAndGlyphs">Easter &amp; Christmas</text>
<text x="365" y="344.21" font-size="9.6" textLength="82.2" lengthAdjust="spacingAndGlyphs">Vaccination (1st dose)</text>
<text x="384.9" y="358.08" font-size="9.6" textLength="62.3" lengthAdjust="spacingAndGlyphs">Seasonality (<tspan font-family='Liberation Serif'>cos</tspan>)</text>
<text x="386.1" y="371.96" font-size="9.6" textLength="61.1" lengthAdjust="spacingAndGlyphs">Seasonality (<tspan font-family='Liberation Serif'>sin</tspan>)</text>
<path d="M449.8 7.56H452.1M449.8 21.44H452.1M449.8 35.31H452.1M449.8 49.19H452.1M449.8 63.07H452.1M449.8 76.94H452.1M449.8 90.82H452.1M449.8 104.7H452.1M449.8 118.57H452.1M449.8 132.45H452.1M449.8 146.33H452.1M449.8 160.21H452.1M449.8 174.08H452.1M449.8 187.96H452.1M449.8 201.84H452.1M449.8 215.71H452.1M449.8 229.59H452.1M449.8 243.47H452.1M449.8 257.35H452.1M449.8 271.22H452.1M449.8 285.1H452.1M449.8 298.98H452.1M449.8 312.85H452.1M449.8 326.73H452.1M449.8 340.61H452.1M449.8 354.48H452.1M449.8 368.36H452.1M452.1 375.3V377.9M481.14 375.3V377.9M510.17 375.3V377.9M539.21 375.3V377.9M568.24 375.3V377.9M597.28 375.3V377.9M626.31 375.3V377.9M655.35 375.3V377.9M684.38 375.3V377.9" stroke="#000" stroke-width="1.3" fill="none"/>
<path d="M457.91 375.3V376.9M463.71 375.3V376.9M469.52 375.3V376.9M475.33 375.3V376.9M486.94 375.3V376.9M492.75 375.3V376.9M498.56 375.3V376.9M504.36 375.3V376.9M515.98 375.3V376.9M521.78 375.3V376.9M527.59 375.3V376.9M533.4 375.3V376.9M545.01 375.3V376.9M550.82 375.3V376.9M556.63 375.3V376.9M562.43 375.3V376.9M574.05 375.3V376.9M579.85 375.3V376.9M585.66 375.3V376.9M591.47 375.3V376.9M603.08 375.3V376.9M608.89 375.3V376.9M614.7 375.3V376.9M620.5 375.3V376.9M632.12 375.3V376.9M637.92 375.3V376.9M643.73 375.3V376.9M649.54 375.3V376.9M661.15 375.3V376.9M666.96 375.3V376.9M672.77 375.3V376.9M678.57 375.3V376.9" stroke="#000" stroke-width="0.9" fill="none"/>
<text x="442.7" y="386.6" font-size="9.8" textLength="18.8" lengthAdjust="spacingAndGlyphs">-50%</text>
<text x="471.74" y="386.6" font-size="9.8" textLength="18.8" lengthAdjust="spacingAndGlyphs">-40%</text>
<text x="500.77" y="386.6" font-size="9.8" textLength="18.8" lengthAdjust="spacingAndGlyphs">-30%</text>
<text x="529.81" y="386.6" font-size="9.8" textLength="18.8" lengthAdjust="spacingAndGlyphs">-20%</text>
<text x="558.84" y="386.6" font-size="9.8" textLength="18.8" lengthAdjust="spacingAndGlyphs">-10%</text>
<text x="589.58" y="386.6" font-size="9.8" textLength="15.4" lengthAdjust="spacingAndGlyphs">-0%</text>
<path d="M615.21 383.4H621.01M618.11 380.5V386.3" stroke="#8a8a8a" stroke-width="0.6" fill="none"/>
<text x="621.51" y="386.6" font-size="9.8" textLength="16.1" lengthAdjust="spacingAndGlyphs">10%</text>
<path d="M644.25 383.4H650.04M647.14 380.5V386.3" stroke="#8a8a8a" stroke-width="0.6" fill="none"/>
<text x="650.55" y="386.6" font-size="9.8" textLength="16.1" lengthAdjust="spacingAndGlyphs">20%</text>
<text x="546.74" y="397.1" font-size="9.8" textLength="40.7" lengthAdjust="spacingAndGlyphs">Effect on <tspan font-family="Liberation Serif">P</tspan></text>
</svg></body></html>
